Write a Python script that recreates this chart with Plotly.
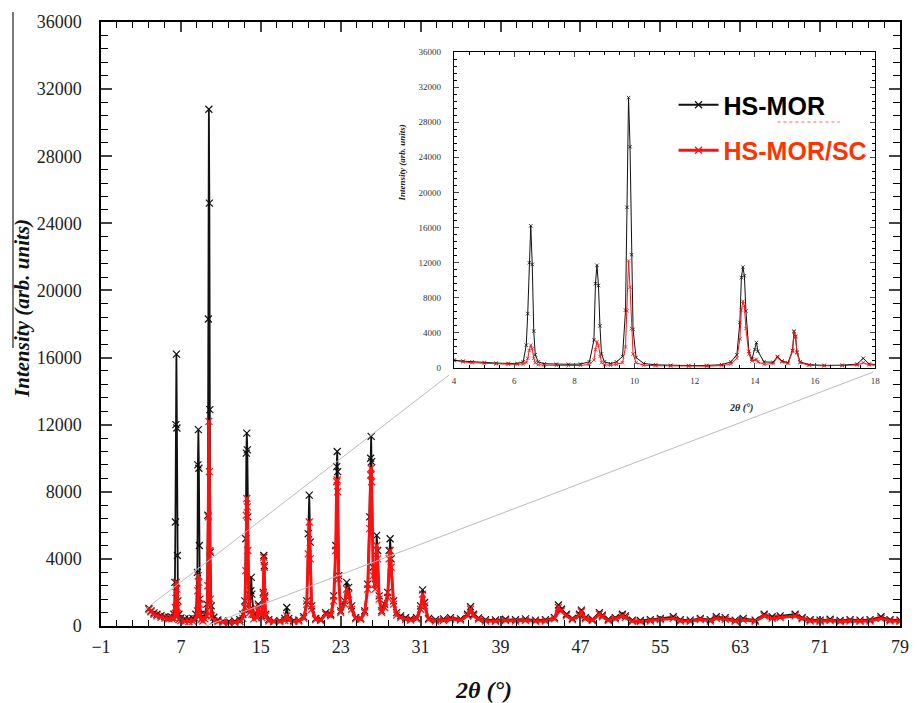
import plotly.graph_objects as go

# ---------------- data ----------------
two_theta = [
    3.8, 4.0, 4.3, 4.6, 5.0, 5.4, 5.8, 6.1, 6.3, 6.4, 6.45, 6.5, 6.55, 6.6, 6.65, 6.7, 6.8,
    7.0, 7.4, 7.8, 8.2, 8.5, 8.65, 8.7, 8.75, 8.8, 8.85, 8.9, 9.0, 9.2, 9.4, 9.6, 9.7, 9.75,
    9.8, 9.85, 9.9, 9.95, 10.05, 10.3, 10.7, 11.2, 11.8, 12.4, 12.9, 13.2, 13.4, 13.5, 13.55,
    13.6, 13.65, 13.7, 13.8, 13.9, 14.0, 14.05, 14.1, 14.3, 14.6, 14.75, 14.9, 15.1, 15.25,
    15.3, 15.35, 15.4, 15.5, 15.8, 16.3, 16.9, 17.4, 17.6, 17.8, 18.3, 18.8, 19.3, 19.6,
    19.75, 19.85, 19.95, 20.1, 20.5, 21.0, 21.5, 22.0, 22.3, 22.5, 22.6, 22.65, 22.7, 22.8,
    23.0, 23.4, 23.6, 23.8, 24.1, 24.5, 25.0, 25.4, 25.7, 25.9, 26.0, 26.05, 26.1, 26.25,
    26.45, 26.6, 26.7, 26.85, 27.1, 27.4, 27.7, 27.85, 27.95, 28.05, 28.3, 28.6, 29.0, 29.5,
    30.0, 30.6, 31.0, 31.2, 31.4, 31.8, 32.5, 33.3, 34.0, 35.0, 35.7, 36.0, 36.3, 36.8, 37.5,
    38.5, 39.5, 40.5, 41.5, 42.5, 43.5, 44.4, 44.8, 45.1, 45.6, 46.2, 46.9, 47.1, 47.5, 48.2,
    48.9, 49.2, 49.8, 50.5, 51.2, 51.5, 52.2, 53.0, 54.0, 55.0, 56.3, 57.0, 58.0, 59.0, 60.0,
    60.6, 61.5, 62.5, 63.3, 64.5, 65.4, 66.2, 67.0, 68.5, 69.2, 70.0, 71.0, 72.0, 73.0, 74.0,
    75.0, 76.0, 77.1, 78.0, 79.0,
]

hs_mor = [
    1050, 900, 780, 700, 620, 560, 520, 520, 700, 2600, 6200, 12000, 16200, 11800, 4200, 1500, 700,
    480, 430, 420, 450, 700, 3200, 9600, 11700, 9400, 4800, 1600, 700, 500, 700, 1300, 6600, 18300,
    30800, 25200, 12900, 4400, 1200, 520, 360, 300, 280, 290, 380, 700, 1500, 5200, 10300,
    11500, 10500, 6500, 1900, 1000, 2100, 2900, 1900, 700, 650, 1300, 800, 600, 2000,
    4200, 3600, 1800, 700, 380, 300, 320, 450, 1100, 450, 330, 350, 550, 1500,
    5500, 7800, 5000, 1200, 450, 400, 800, 700, 1800, 4800, 9500, 10400, 9200, 3000,
    900, 1500, 2600, 2300, 1200, 500, 450, 900, 2500, 6500, 10000, 11300, 9800, 3500,
    2500, 5400, 4500, 1800, 900, 1300, 2000, 4500, 5200, 4000, 1500, 800, 600, 500,
    430, 500, 1200, 2150, 1400, 450, 380, 420, 500, 420, 700, 1150, 700, 480, 380,
    360, 400, 380, 420, 350, 380, 500, 1250, 1000, 700, 450, 700, 950, 500, 400,
    800, 650, 400, 500, 700, 600, 350, 330, 380, 450, 550, 380, 350, 450, 380,
    550, 500, 350, 450, 350, 700, 550, 600, 700, 500, 380, 350, 400, 330, 380,
    350, 380, 550, 380, 350,
]

hs_mor_sc = [
    980, 850, 700, 600, 520, 470, 430, 420, 450, 620, 1100, 2000, 2600, 2200, 1100, 600, 380,
    320, 280, 270, 280, 420, 900, 2100, 3000, 2600, 1300, 600, 380, 300, 420, 600, 2400, 6500,
    12200, 9200, 4500, 1600, 600, 320, 260, 220, 200, 210, 270, 450, 1100, 3300, 6600,
    7600, 7100, 4500, 1600, 800, 900, 1000, 700, 420, 500, 1200, 700, 500, 1900,
    4100, 3500, 1700, 600, 300, 250, 260, 330, 600, 350, 260, 300, 450, 1300,
    4300, 6200, 4000, 1000, 380, 330, 700, 600, 1500, 4500, 8600, 8700, 8000, 2800,
    800, 1300, 2200, 1900, 1000, 430, 400, 800, 2200, 5800, 9000, 9400, 8600, 3000,
    2200, 4800, 4000, 1600, 800, 1100, 1700, 4000, 4500, 3500, 1300, 650, 500, 400,
    350, 420, 1000, 1900, 1200, 380, 300, 330, 400, 350, 600, 1000, 600, 400, 300,
    280, 330, 300, 330, 280, 300, 420, 1100, 900, 600, 380, 600, 850, 420, 330,
    700, 550, 330, 420, 600, 500, 280, 260, 300, 380, 450, 300, 280, 380, 300,
    450, 400, 280, 350, 280, 600, 450, 500, 600, 420, 300, 280, 320, 260, 300,
    280, 300, 450, 300, 280,
]

series_names = ["HS-MOR", "HS-MOR/SC"]
series_colors = ["#111111", "#ff1010"]

# ---------------- figure ----------------
SERIF = "Liberation Serif, Times New Roman, serif"
SANS = "Liberation Sans, Arial, sans-serif"
fig = go.Figure()

# main panel
for name, vals, col, grp, lw in [(series_names[0], hs_mor, series_colors[0], "a", 1.8),
                                 (series_names[1], hs_mor_sc, series_colors[1], "b", 3.0)]:
    label = ("<b>%s</b>" % name) if grp == "a" else \
        "<b><span style='color:#ff3300'>%s</span></b>" % name
    fig.add_trace(go.Scatter(
        x=two_theta, y=vals, mode="lines+markers", name=label,
        legendgroup=grp, showlegend=True,
        line=dict(color=col, width=lw),
        marker=dict(symbol="x-thin", size=7, line=dict(color=col, width=1.2)),
        xaxis="x", yaxis="y",
    ))

# inset panel (same data, zoomed)
for vals, col in [(hs_mor, series_colors[0]), (hs_mor_sc, series_colors[1])]:
    fig.add_trace(go.Scatter(
        x=two_theta, y=vals, mode="lines+markers", showlegend=False,
        line=dict(color=col, width=1),
        marker=dict(symbol="x-thin", size=3.5, line=dict(color=col, width=0.8)),
        xaxis="x2", yaxis="y2",
    ))

# the page body has an 8 px margin, so the figure starts at (8, 8) of the page;
# keep the figure no wider than the page so nothing gets rescaled
OFF = 8
W, H = 917 - 2 * OFF, 703 - OFF
L, T = 101 - OFF, 22 - OFF
R = 0
B = H - (626 - OFF)
PW, PH = W - L - R, H - T - B


def px(x_page):
    return (x_page - OFF - L) / PW


def py(y_page):
    return (H - B - (y_page - OFF)) / PH


axis_common = dict(showgrid=False, zeroline=False, showline=True, linecolor="black",
                   mirror="allticks", ticks="inside")

fig.update_layout(
    width=W, height=H,
    margin=dict(l=L, r=R, t=T, b=B, pad=0),
    paper_bgcolor="white", plot_bgcolor="white",
    font=dict(family=SERIF, color="#222222"),
    xaxis=dict(**axis_common, range=[-1, 79], tick0=-1, dtick=8, ticklen=10, tickwidth=1.5,
               linewidth=1.5, tickfont=dict(size=18, family=SERIF, color="#222"),
               ticklabelstandoff=4, ticklabeloverflow="allow",
               minor=dict(ticks="inside", tick0=-1, dtick=1.6, ticklen=6, tickwidth=1.2,
                          tickcolor="black"),
               domain=[0, 1]),
    yaxis=dict(**axis_common, range=[0, 36000], dtick=4000, tickformat="d", ticklen=11,
               tickwidth=1.5, linewidth=1.5,
               tickfont=dict(size=18, family=SERIF, color="#222"),
               ticklabelstandoff=14,
               minor=dict(ticks="inside", dtick=800, ticklen=7, tickwidth=1.2,
                          tickcolor="black"),
               domain=[0, 1]),
    xaxis2=dict(**axis_common, anchor="y2", domain=[px(458), px(884)], range=[4, 18],
                dtick=2, ticklen=5, tickwidth=1, linewidth=1.2,
                tickfont=dict(size=9, family=SERIF, color="#333"), ticklabelstandoff=4,
                minor=dict(ticks="inside", dtick=0.5, ticklen=3, tickwidth=0.8,
                           tickcolor="black")),
    yaxis2=dict(**axis_common, anchor="x2", domain=[py(368), py(52)], range=[0, 36000],
                dtick=4000, tickformat="d", ticklen=5, tickwidth=1, linewidth=1.2,
                tickfont=dict(size=9, family=SERIF, color="#333"), ticklabelstandoff=10,
                minor=dict(ticks="inside", dtick=800, ticklen=3, tickwidth=0.8,
                           tickcolor="black")),
    legend=dict(x=px(680), y=py(82), xanchor="left", yanchor="top",
                bgcolor="rgba(0,0,0,0)", borderwidth=0,
                font=dict(family=SANS, size=25, color="black"),
                tracegroupgap=10, traceorder="grouped", itemwidth=40),
    annotations=[
        dict(text="<b><i>Intensity (arb. units)</i></b>", textangle=-90,
             x=px(21), y=py(308), xref="paper", yref="paper", showarrow=False,
             xanchor="center", yanchor="middle",
             font=dict(family=SERIF, size=21, color="#111")),
        dict(text="<b><i>2θ (°)</i></b>", x=px(488), y=py(690), xref="paper", yref="paper",
             showarrow=False, xanchor="center", yanchor="middle",
             font=dict(family=SERIF, size=24, color="#111")),
        dict(text="<b><i>Intensity (arb. units)</i></b>", textangle=-90,
             x=px(405), y=py(163), xref="paper", yref="paper", showarrow=False,
             xanchor="center", yanchor="middle",
             font=dict(family=SERIF, size=9, color="#222")),
        dict(text="<b><i>2θ (°)</i></b>", x=px(748), y=py(408), xref="paper", yref="paper",
             showarrow=False, xanchor="center", yanchor="middle",
             font=dict(family=SERIF, size=10, color="#222")),
    ],
    shapes=[
        dict(type="line", xref="paper", yref="paper", x0=px(145), y0=py(610),
             x1=px(453), y1=py(375), line=dict(color="#bbbbbb", width=1)),
        dict(type="line", xref="paper", yref="paper", x0=px(207), y0=py(626),
             x1=px(882), y1=py(372), line=dict(color="#bbbbbb", width=1)),
        dict(type="line", xref="paper", yref="paper", x0=px(12), y0=py(12),
             x1=px(12), y1=py(348), line=dict(color="#333", width=1.3)),
        dict(type="line", xref="paper", yref="paper", x0=px(785), y0=py(122),
             x1=px(848), y1=py(122), line=dict(color="#ff6060", width=1, dash="dot")),
    ],
)

fig.write_html("out.html")
